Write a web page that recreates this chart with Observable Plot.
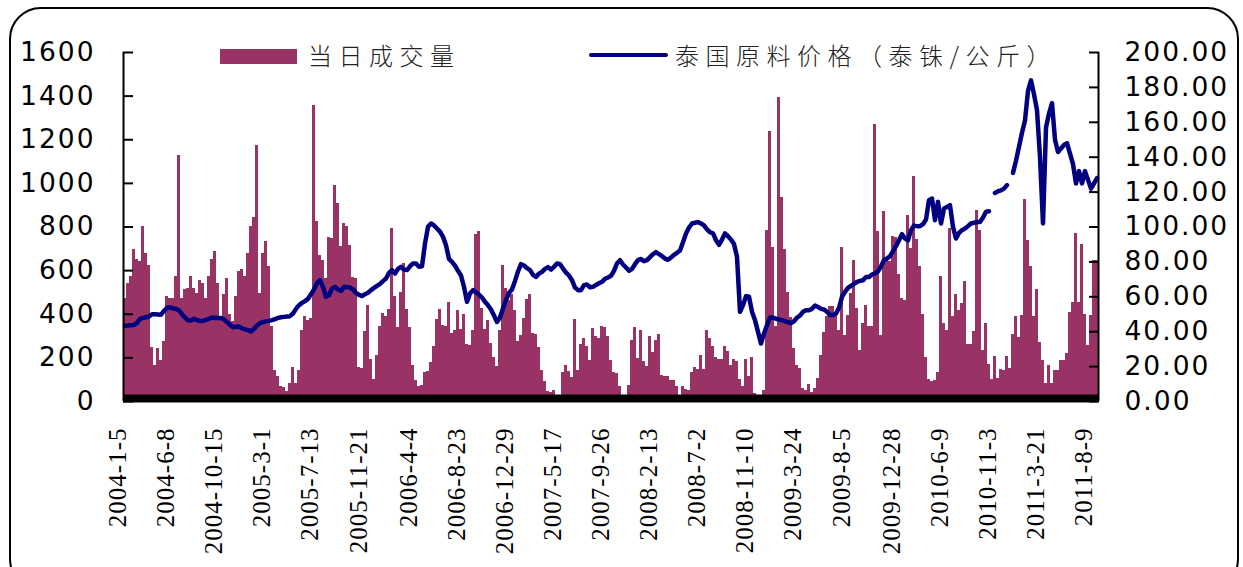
<!DOCTYPE html>
<html>
<head>
<meta charset="utf-8">
<script src="https://cdn.jsdelivr.net/npm/d3@7"></script>
<script src="https://cdn.jsdelivr.net/npm/@observablehq/plot@0.6"></script>
<style>
  html, body { margin: 0; padding: 0; background: #fff; }
  #wrap { position: relative; width: 1243px; height: 567px; overflow: hidden; background: #fff; }
  #frame { position: absolute; left: 9px; top: 7px; width: 1226px; height: 580px; border: 2px solid #000; border-radius: 32px; pointer-events: none; }
  #chart { position: absolute; left: 0; top: 0; }
  .lg { position: absolute; font-family: "Noto Sans CJK SC", sans-serif; font-weight: 300; font-size: 24px; letter-spacing: 6.5px; color: #222; line-height: 1; white-space: nowrap; }
  .sw { position: absolute; }
</style>
</head>
<body>
<div id="wrap">
  <div id="chart"></div>
  <div class="sw" style="left:220px;top:49px;width:77px;height:15px;background:#993366"></div>
  <div class="lg" style="left:308px;top:43px">当日成交量</div>
  <div class="sw" style="left:589px;top:53px;width:79px;height:4px;border-radius:2px;background:#000080"></div>
  <div class="lg" style="left:675px;top:43px">泰国原料价格（泰铢/公斤）</div>
  <div id="frame"></div>
</div>
<script>
// ---- data ----
const seriesNames = ["当日成交量", "泰国原料价格（泰铢/公斤）"];

const dateLabels = ["2004-1-5","2004-6-8","2004-10-15","2005-3-1","2005-7-13","2005-11-21","2006-4-4","2006-8-23","2006-12-29","2007-5-17","2007-9-26","2008-2-13","2008-7-2","2008-11-10","2009-3-24","2009-8-5","2009-12-28","2010-6-9","2010-11-3","2011-3-21","2011-8-9"];
const labelPos = [-2,14,30,46,62,78.5,95,111,127,143,159,175,191,207,223,239.5,256,272,288,304,320];

const volume = [
472,540,571,697,651,640,804,678,625,248,
165,243,186,274,483,472,472,574,1129,472,
513,518,574,518,495,556,541,472,574,651,
689,541,373,492,564,400,365,483,594,605,
574,678,804,843,1175,495,678,732,617,342,
141,113,70,64,44,83,156,83,141,327,
388,370,380,1358,824,671,648,564,752,747,
989,908,709,816,804,717,568,564,156,151,
319,442,
193,100,212,345,403,388,422,793,483,339,
500,633,422,339,167,98,70,75,131,136,
177,254,376,420,350,345,452,312,327,416,
330,400,263,258,327,767,778,426,330,370,
266,200,160,327,625,520,465,492,419,274,
304,380,468,492,312,309,248,144,90,44,
40,52,20,0,131,167,136,110,376,141,
263,289,254,186,335,300,289,345,339,300,
186,131,128,
67,20,20,75,280,340,195,327,185,160,
300,223,278,309,121,116,116,98,98,70,
20,67,55,52,131,156,147,212,147,327,
289,254,200,193,193,254,230,167,193,182,
100,70,193,113,200,37,20,20,49,785,
1236,706,342,1394,935,697,498,385,243,167,
151,60,52,80,40,60,105,212,315,391,
434,437,403,324,706,304,396,495,645,426,
235,358,442,
345,345,1271,778,304,869,650,640,755,752,
584,470,461,854,700,1033,743,620,400,200,
100,90,98,131,575,358,327,793,391,492,
416,450,548,263,263,319,874,782,232,358,
171,101,205,105,147,144,205,151,309,388,
293,396,926,740,617,391,513,269,186,83,
167,83,141,141,186,186,220,406,452,770,
452,721,400,258,396,648,648
];

const price = [
43.4,43.5,43.7,43.9,45.1,47.4,47.9,48.3,48.7,50.0,
50.0,49.9,49.7,52.0,53.7,53.9,53.3,53.1,52.3,50.0,
48.1,46.6,46.4,47.4,46.6,46.2,46.2,46.8,47.4,48.1,
47.8,47.8,47.9,47.0,45.5,43.9,42.6,42.8,43.0,42.0,
41.3,40.9,40.1,41.6,43.5,44.9,45.5,46.0,46.2,46.6,
47.2,47.9,48.3,48.5,48.7,48.9,50.4,53.1,55.2,56.5,
57.5,58.8,61.5,64.2,68.0,69.5,65.7,60.0,60.9,64.7,
65.7,64.2,63.4,65.7,65.5,65.3,64.2,62.3,61.1,60.4,
61.5,62.3,63.8,65.1,66.3,67.4,69.0,70.5,73.7,75.3,
73.3,76.0,77.2,75.6,75.3,77.5,79.1,79.1,77.2,77.5,
90.5,100.1,102.0,100.9,99.1,97.4,94.4,89.6,81.7,80.0,
77.9,74.9,72.2,65.7,57.1,61.9,63.8,62.5,61.3,59.6,
57.1,55.2,52.7,49.3,45.6,48.1,53.3,58.1,62.3,64.2,
69.1,74.5,78.7,77.9,76.4,75.3,72.6,71.4,73.3,74.3,
76.0,77.0,75.6,77.2,79.1,78.7,76.2,73.9,72.2,69.5,
65.3,63.8,63.8,66.7,67.0,65.5,65.7,66.8,67.8,68.6,
70.3,71.1,72.0,74.9,79.1,81.0,78.5,76.8,74.9,76.0,
78.7,81.0,81.7,80.4,81.0,82.7,84.4,85.6,84.4,83.3,
81.9,81.2,82.5,84.0,85.2,86.5,91.3,96.3,99.7,102.0,
102.4,102.8,102.0,100.9,98.6,97.0,96.3,92.4,89.8,92.8,
96.3,94.7,92.8,90.2,82.9,51.4,55.2,60.4,60.0,51.4,
46.6,39.9,33.2,39.0,43.7,48.1,48.1,47.4,47.0,46.6,
46.0,45.5,44.9,46.0,48.1,49.3,51.4,52.3,52.3,53.1,
55.0,54.2,53.1,52.7,51.4,49.5,49.5,50.4,53.7,60.0,
62.8,65.1,66.3,67.4,68.6,69.1,69.5,71.4,71.4,72.8,
73.5,74.5,77.5,81.0,81.9,83.3,86.1,89.0,92.4,95.9,
93.4,92.4,98.2,100.8,100.5,100.5,101.6,104.3,115.4,116.3,
103.9,114.4,102.0,110.6,111.5,112.5,100.1,93.4,96.6,98.2,
99.1,100.5,102.0,102.4,102.8,102.9,105.4,108.7,109.0,null,
119.5,120.5,121.0,122.0,124.0,null,131.0,138.0,146.0,154.0,
161.0,178.0,184.0,176.0,167.0,140.0,102.0,157.0,165.0,171.0,
150.0,143.0,145.0,147.0,148.0,142.0,136.0,125.0,132.0,125.0,
132.0,127.0,122.0,125.0,128.0
];

const leftTicks = [0,200,400,600,800,1000,1200,1400,1600];
const rightTicks = [0,20,40,60,80,100,120,140,160,180,200];

// ---- build ----
const ratio = 1600 / 200; // right axis value -> left axis units
const barData = volume.map((v, k) => ({k, k2: k + 1, v}));
const lineData = price.map((p, k) => ({xk: k + 0.5, y: p == null ? NaN : p * ratio}));
const labelMap = new Map(labelPos.map((p, i) => [p, dateLabels[i]]));

const numFont = "DejaVu Sans";

const chart = Plot.plot({
  width: 1243,
  height: 567,
  marginLeft: 123,
  marginRight: 145,
  marginTop: 52,
  marginBottom: 166,
  style: {background: "transparent", overflow: "visible"},
  x: {domain: [0, volume.length], axis: null},
  y: {domain: [0, 1600], axis: null},
  marks: [
    Plot.rectY(barData, {x1: "k", x2: "k2", y: "v", fill: "#993366", shapeRendering: "crispEdges"}),
    Plot.line(lineData, {x: "xk", y: "y", stroke: "#000080", strokeWidth: 4.5, strokeLinejoin: "round", strokeLinecap: "round"}),
    Plot.ruleY([0], {stroke: "#000", strokeWidth: 8, dy: -3}),
    Plot.ruleX([0], {stroke: "#000", strokeWidth: 2}),
    Plot.ruleX([volume.length], {stroke: "#000", strokeWidth: 2}),
    Plot.axisY({anchor: "left", ticks: leftTicks, tickSize: 10, dx: 10, text: null, strokeWidth: 2, stroke: "#000"}),
    Plot.axisY({anchor: "left", ticks: leftTicks, tickSize: 0, tickPadding: 28, tickFormat: d => String(d),
      fontSize: 26.5, fill: "#000"}),
    Plot.axisY({anchor: "right", ticks: rightTicks.map(d => d * ratio), tickSize: 10, dx: -10, text: null, strokeWidth: 2, stroke: "#000"}),
    Plot.axisY({anchor: "right", ticks: rightTicks.map(d => d * ratio), tickSize: 0, tickPadding: 26,
      tickFormat: d => (d / ratio).toFixed(2), fontSize: 26.5, fill: "#000"}),
    Plot.axisX({anchor: "bottom", ticks: labelPos, tickSize: 0, tickPadding: 26, tickRotate: -90,
      tickFormat: d => labelMap.get(d), fontSize: 25, fill: "#000", label: null})
  ]
});
// fonts applied directly to the tick label text elements
d3.select(chart).selectAll('[aria-label="y-axis tick label"] text')
  .style("font-family", numFont).style("letter-spacing", "2px");
d3.select(chart).selectAll('[aria-label="x-axis tick label"] text')
  .style("font-family", "Liberation Serif").style("letter-spacing", "1px");
document.getElementById("chart").appendChild(chart);
</script>
</body>
</html>
